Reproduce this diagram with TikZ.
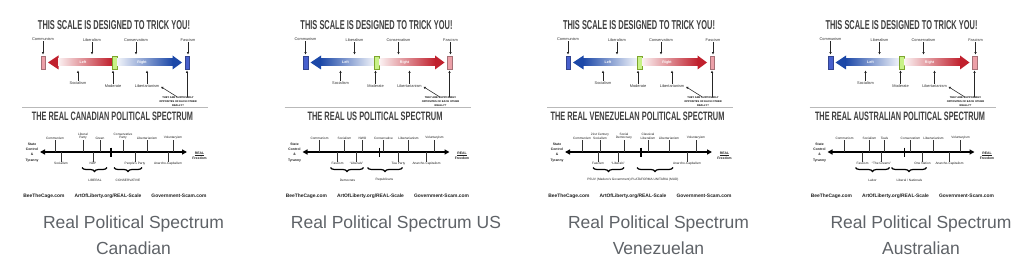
\documentclass[tikz,border=0pt]{standalone}
\usepackage{fontspec}
\setmainfont{Liberation Sans}
\usetikzlibrary{arrows.meta, positioning, calc, decorations.pathreplacing}

\definecolor{capgray}{RGB}{95,99,104}
\definecolor{libred}{RGB}{192,32,45}
\definecolor{conblue}{RGB}{28,72,168}
\definecolor{softpink}{RGB}{236,160,168}
\definecolor{softblue}{RGB}{72,96,205}
\definecolor{modgreen}{RGB}{200,242,135}
\definecolor{modedge}{RGB}{125,165,45}

%% squeezed poster title
\newcommand{\banner}[3]{\resizebox{#1pt}{#2pt}{\bfseries #3}}

%% the "trick" scale: box, left arrow (head, body from, body to), right arrow (head, body from, body to), box
\newcommand{\trickscale}[8]{%
  \node[ttl] (trick) at (114,25) {\banner{152}{9}{THIS SCALE IS DESIGNED TO TRICK YOU!}};
  \node[lbl] (comm) at (43,39.5)  {Communism};
  \node[lbl] (libm) at (92,40.5)  {Liberalism};
  \node[lbl] (cons) at (136,40.5) {Conservatism};
  \node[lbl] (fasc) at (188,40.5) {Fascism};
  %% bar
  \node[ibox, fill=#1, draw=#1!70!black] (cbox) at (43,62.5) {};
  \fill[#2] (48,62.5) -- (58.5,55.5) -- (58.5,69.5) -- cycle;
  \shade[left color=#3, right color=#4] (58,59) rectangle (112,66);
  \node[ibox, minimum width=5pt, fill=modgreen, draw=modedge] (mbox) at (114.5,62.5) {};
  \shade[left color=#6, right color=#7] (117,59) rectangle (173,66);
  \fill[#5] (182,62.5) -- (172.5,55.5) -- (172.5,69.5) -- cycle;
  \node[ibox, fill=#8, draw=#8!70!black] (fbox) at (187,62.5) {};
  \node[inlbl] (lft) at (83,62.5)  {Left};
  \node[inlbl] (rgt) at (142,62.5) {Right};
  %% under the bar
  \node[lbl] (soc)  at (78,83)  {Socialism};
  \node[lbl] (mod)  at (113,86) {Moderate};
  \node[lbl] (libt) at (147,86) {Libertarianism};
  \node[nbox] (note) at (178,101.5) {THEY ARE SUPPOSEDLY\\OPPOSITES OF EACH OTHER\\REALLY?};
  %% pointers
  \draw[ptr] (comm.south) -- (comm.south |- cbox.north);
  \draw[ptr] (libm.south) -- (libm.south |- cbox.north);
  \draw[ptr] (cons.south) -- (cons.south |- cbox.north);
  \draw[ptr] (fasc.south) -- (fasc.south |- cbox.north);
  \draw[ptr] (soc.north)  -- (soc.north |- cbox.south);
  \draw[ptr] (mod.north)  -- (mod.north |- mbox.south);
  \draw[ptr] (libt.north) -- (libt.north |- cbox.south);
  \draw[ptr] (fbox |- note.north) -- (fbox.south);
  \draw[ptr] ($(note.north)+(-1,0)$) -- (libt.east);
  \draw[splitline] (22,107) -- (208,107);
}

%% the "real" scale: title, title width, middle mark
\newcommand{\realscale}[3]{%
  \node[ttl] (realttl) at (112.5,116) {\banner{#2}{8.5}{#1}};
  \coordinate (axl) at (40,152);
  \coordinate (axr) at (187,152);
  \draw[axisline] (axl) -- (axr);
  \coordinate (mid) at (#3,152);
  \draw[line width=1.5pt] ($(mid)+(0,-4.5)$) -- ($(mid)+(0,4.5)$);
  \node[blbl] (state) at (32,152.5)  {State\\Control\\\&\\Tyranny};
  \node[blbl] (free)  at (199.5,155.5) {\underline{REAL}\\Freedom};
  \node[foottxt] (site1) at (44,196)  {BeeTheCage.com};
  \node[foottxt] (site2) at (108,196) {ArtOfLiberty.org/REAL-Scale};
  \node[foottxt] (site3) at (179,196) {Government-Scam.com};
}

\newcommand{\overaxis}[1]{%
  \foreach \x/\t [count=\i] in {#1} {
    \node[slbl, anchor=south] (up\i) at (\x,140) {\t};
    \draw[axtick] (up\i.south) -- (up\i.south |- axl);
  }}
\newcommand{\underaxis}[1]{%
  \foreach \x/\t [count=\i] in {#1} {
    \node[slbl, anchor=north] (dn\i) at (\x,161.5) {\t};
    \draw[axtick] (dn\i.north) -- (dn\i.north |- axl);
  }}
\newcommand{\camp}[5]{%
  \coordinate (bl) at (#1,167.5);
  \coordinate (br) at (#2,167.5);
  \draw[curly] (bl) -- (br);
  \node[slbl] (grp) at (#3,180) {#4#5};
}

\begin{document}
\begin{tikzpicture}[
    x=1pt, y=-1pt,
    ttl/.style      = {text=black!75, inner sep=0pt},
    lbl/.style      = {font=\fontsize{3.9}{4.4}\selectfont, text=black!80, inner sep=0.3pt, align=center},
    slbl/.style     = {font=\fontsize{3.2}{3.7}\selectfont, text=black!88, inner sep=0.3pt, align=center},
    inlbl/.style    = {font=\bfseries\fontsize{3.6}{4}\selectfont, text=white, inner sep=0pt},
    blbl/.style     = {font=\bfseries\fontsize{3.4}{5.2}\selectfont, text=black!88, inner sep=0pt, align=center},
    nbox/.style     = {font=\bfseries\fontsize{2.6}{3.6}\selectfont, text=black, inner sep=0pt, align=center},
    foottxt/.style  = {font=\bfseries\fontsize{4.9}{5.5}\selectfont, text=black!88, inner sep=0pt},
    captxt/.style   = {font=\fontsize{17.5}{26}\selectfont, text=capgray, align=center, anchor=north, inner sep=0pt},
    ibox/.style     = {minimum width=4.5pt, minimum height=13pt, inner sep=0pt, line width=0.3pt},
    ptr/.style      = {-{Triangle[length=2.2pt,width=2.2pt]}, line width=0.55pt, black!85, shorten >=1.5pt},
    axisline/.style = {{Triangle[length=5pt,width=5pt]}-{Triangle[length=5pt,width=5pt]}, line width=1.3pt},
    axtick/.style   = {line width=0.45pt, black!80},
    curly/.style    = {decorate, decoration={brace, amplitude=4pt, mirror}, line width=1.2pt},
    splitline/.style= {gray!55, line width=0.9pt},
]
\useasboundingbox (0,0) rectangle (1026,278);
\fill[white] (0,0) rectangle (1026,278);

%% Canadian
\begin{scope}
  \trickscale{softpink}{libred}{libred!6}{libred}{conblue}{conblue!6}{conblue}{softblue}
  \realscale{THE REAL CANADIAN POLITICAL SPECTRUM}{161}{111}
  \overaxis{55/Communism, 83/{Liberal\\Party}, 100/Green, 123/{Conservative\\Party}, 147/Libertarianism, 173/Voluntaryism}
  \underaxis{61/Socialism, 93/NDP, 135/People's Party, 168/Anarcho-Capitalism}
  \camp{82}{107}{95}{LIBERAL}{}
  \camp{114}{142}{128}{CONSERVATIVE}{}
\end{scope}
\node[captxt] (cap1) at (133.5,216) {Real Political Spectrum\\Canadian};

%% US
\begin{scope}[xshift=262.5pt]
  \trickscale{softblue}{conblue}{conblue}{conblue!6}{libred}{libred!6}{libred}{softpink}
  \realscale{THE REAL US POLITICAL SPECTRUM}{135}{117}
  \overaxis{57/Communism, 82/Socialism, 100/NWO, 121/Conservative, 146/Libertarianism, 172/Voluntaryism}
  \underaxis{75/Fascism, 94/``Liberals'', 136/Tea Party, 164/Anarcho-Capitalism}
  \camp{68}{101}{85}{Democrats}{}
  \camp{105}{140}{122}{Republicans}{}
\end{scope}
\node[captxt] (cap2) at (396,216) {Real Political Spectrum US};

%% Venezuelan
\begin{scope}[xshift=525pt]
  \trickscale{softblue}{conblue}{conblue}{conblue!6}{libred}{libred!6}{libred}{softpink}
  \realscale{THE REAL VENEZUELAN POLITICAL SPECTRUM}{174}{116}
  \overaxis{57/Communism, 75/{21st Century\\Socialism}, 99/{Social\\Democracy}, 123/{Classical\\Liberalism}, 144/Libertarianism, 171/Voluntaryism}
  \underaxis{73/Fascism, 93/``Liberals'', 162/Anarcho-Capitalism}
  \camp{68}{99}{84}{PSUV (Maduro's Government)}{}
  \camp{112}{148}{130}{PLATAFORMA UNITARIA (MUD)}{}
\end{scope}
\node[captxt] (cap3) at (658.5,216) {Real Political Spectrum\\Venezuelan};

%% Australian
\begin{scope}[xshift=787.5pt]
  \trickscale{softblue}{conblue}{conblue}{conblue!6}{libred}{libred!6}{libred}{softpink}
  \realscale{THE REAL AUSTRALIAN POLITICAL SPECTRUM}{170}{117}
  \overaxis{57/Communism, 82/Socialism, 97/Teals, 123/Conservatism, 146/Libertarianism, 173/Voluntaryism}
  \underaxis{75/Fascism, 94/``The Greens'', 135/One Nation, 162/Anarcho-Capitalism}
  \camp{68}{102}{85}{Labor}{}
  \camp{104}{139}{122}{Liberal / Nationals}{}
\end{scope}
\node[captxt] (cap4) at (921,216) {Real Political Spectrum\\Australian};

\end{tikzpicture}
\end{document}
